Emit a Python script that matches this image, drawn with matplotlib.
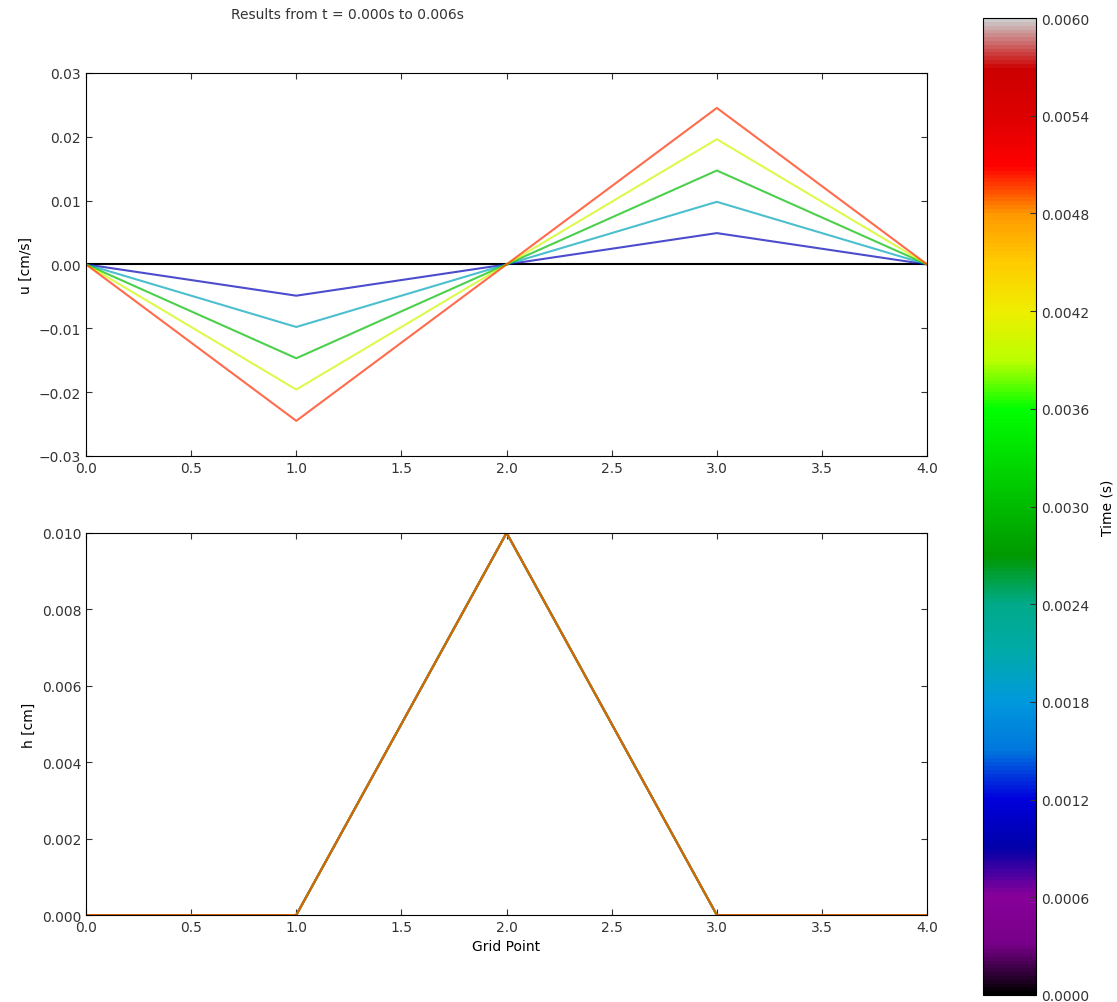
import numpy as np
import matplotlib
matplotlib.use("Agg")
import matplotlib.pyplot as plt
import matplotlib.cm as cm
import matplotlib.colors as mcolors

# data
grid = [0, 1, 2, 3, 4]
times = [0.000, 0.001, 0.002, 0.003, 0.004, 0.005]
u_vals = [
    [0.0, 0.0, 0.0, 0.0, 0.0],
    [0.0, -0.0049, 0.0, 0.0049, 0.0],
    [0.0, -0.0098, 0.0, 0.0098, 0.0],
    [0.0, -0.0147, 0.0, 0.0147, 0.0],
    [0.0, -0.0196, 0.0, 0.0196, 0.0],
    [0.0, -0.0245, 0.0, 0.0245, 0.0],
]
h_vals = [
    [0.0, 0.0, 0.010, 0.0, 0.0],
    [0.0, 0.0, 0.010, 0.0, 0.0],
    [0.0, 0.0, 0.010, 0.0, 0.0],
    [0.0, 0.0, 0.010, 0.0, 0.0],
    [0.0, 0.0, 0.010, 0.0, 0.0],
    [0.0, 0.0, 0.010, 0.0, 0.0],
]
t_start, t_end = 0.0, 0.006

plt.rcParams['font.family'] = ['DejaVu Sans']
plt.rcParams['font.size'] = 10
plt.rcParams['xtick.direction'] = 'in'
plt.rcParams['ytick.direction'] = 'in'
plt.rcParams['xtick.top'] = True
plt.rcParams['ytick.right'] = True
plt.rcParams['xtick.major.size'] = 4
plt.rcParams['ytick.major.size'] = 4
plt.rcParams['text.color'] = '#333333'
plt.rcParams['xtick.color'] = '#333333'
plt.rcParams['ytick.color'] = '#333333'

cmap = cm.nipy_spectral
norm = mcolors.Normalize(vmin=t_start, vmax=t_end)

fig = plt.figure(figsize=(11.17, 10.03), dpi=100)
ax1 = fig.add_axes([0.077, 0.5444, 0.753, 0.382])
ax2 = fig.add_axes([0.077, 0.0867, 0.753, 0.381])
cax = fig.add_axes([0.880, 0.007, 0.0474, 0.974])

for t, u in zip(times, u_vals):
    if t == 0:
        ax1.plot(grid, u, color='k', lw=1.5)
    else:
        ax1.plot(grid, u, color=cmap(norm(t)), lw=1.5, alpha=0.7)
for t, h in zip(times, h_vals):
    ax2.plot(grid, h, color=cmap(norm(t)), lw=1.5, alpha=0.7)

ax1.set_xlim(0, 4)
ax1.set_ylim(-0.03, 0.03)
ax1.set_yticks(np.arange(-0.03, 0.031, 0.01))
ax1.set_ylabel("u [cm/s]")

ax2.set_xlim(0, 4)
ax2.set_ylim(0, 0.01)
ax2.set_yticks(np.arange(0, 0.0101, 0.002))
ax2.yaxis.set_major_formatter(matplotlib.ticker.FormatStrFormatter('%.3f'))
ax2.set_xlabel("Grid Point")
ax2.set_ylabel("h [cm]")

sm = cm.ScalarMappable(norm=norm, cmap=cmap)
cb = fig.colorbar(sm, cax=cax, ticks=np.arange(0, 0.00601, 0.0006))
cb.ax.yaxis.set_major_formatter(matplotlib.ticker.FormatStrFormatter('%.4f'))
cb.ax.tick_params(direction='in', length=4, left=False, right=True)
cb.set_label("Time (s)", labelpad=8)

fig.text(0.311, 0.985, "Results from t = %.3fs to %.3fs" % (t_start, t_end),
         ha='center', va='center', fontsize=10)

fig.savefig("out.png", dpi=100)
